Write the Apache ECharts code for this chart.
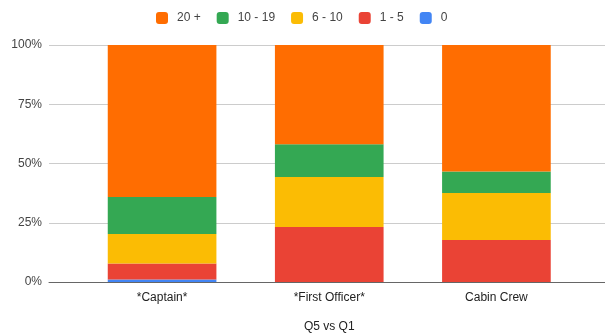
<!DOCTYPE html>
<html>
<head>
<meta charset="utf-8">
<script src="https://cdn.jsdelivr.net/npm/echarts@6/dist/echarts.min.js"></script>
<style>
  html, body { margin: 0; padding: 0; background: #fff; }
  #chart { width: 605px; height: 333px; }
</style>
</head>
<body>
<div id="chart"></div>
<script>
// Crew role categories
const categories = ['*Captain*', '*First Officer*', 'Cabin Crew'];

// Share of respondents (%) per experience band, per role
const band0     = [1.1, 0, 0];
const band1to5  = [6.7, 23.2, 17.7];
const band6to10 = [12.5, 21.1, 19.9];
const band10to19 = [15.6, 13.8, 9.0];
const band20plus = [64.1, 41.9, 53.4];

const yTicks = [0, 25, 50, 75, 100];

const font = 'Liberation Sans, Arial, sans-serif';
const textColor = '#444';

const chart = echarts.init(document.getElementById('chart'), null, { renderer: 'canvas' });

function bar(name, data, color) {
  return {
    name: name,
    type: 'bar',
    stack: 'total',
    xAxisIndex: 1,
    yAxisIndex: 1,
    barWidth: '65%',
    itemStyle: { color: color },
    emphasis: { disabled: true },
    data: data
  };
}

chart.setOption({
  animation: false,
  textStyle: { fontFamily: font },
  legend: {
    top: 12,
    left: 156,
    padding: 0,
    itemWidth: 12,
    itemHeight: 12,
    itemGap: 16,
    icon: 'roundRect',
    textStyle: { color: textColor, fontSize: 12, fontFamily: font, padding: [1, 0, 0, 4] },
    data: ['20 +', '10 - 19', '6 - 10', '1 - 5', '0']
  },
  grid: [
    { left: 49, right: 0, top: 45, bottom: 51, outerBoundsMode: 'none', containLabel: false },
    { left: 78.5, right: 25, top: 45, bottom: 51, outerBoundsMode: 'none', containLabel: false }
  ],
  xAxis: [
    {
      type: 'category',
      gridIndex: 0,
      data: [''],
      axisLine: { show: true, lineStyle: { color: '#666', width: 1 } },
      axisTick: { show: false },
      axisLabel: { show: false }
    },
    {
      type: 'category',
      gridIndex: 1,
      data: categories,
      axisLine: { show: false },
      axisTick: { show: false },
      axisLabel: { color: '#222', fontSize: 12, margin: 10, fontFamily: font },
      name: 'Q5 vs Q1',
      nameLocation: 'middle',
      nameGap: 39,
      nameTextStyle: { color: '#222', fontSize: 12, fontFamily: font }
    }
  ],
  yAxis: [
    {
      type: 'value',
      gridIndex: 0,
      min: yTicks[0],
      max: yTicks[yTicks.length - 1],
      interval: 25,
      axisLine: { show: false },
      axisTick: { show: false },
      axisLabel: { color: textColor, fontSize: 12, margin: 7, formatter: '{value}%', fontFamily: font },
      splitLine: { lineStyle: { color: '#ccc', width: 1 } }
    },
    {
      type: 'value',
      gridIndex: 1,
      min: 0,
      max: 100,
      interval: 25,
      show: false,
      splitLine: { show: false }
    }
  ],
  series: [
    bar('0', band0, '#4285f4'),
    bar('1 - 5', band1to5, '#ea4335'),
    bar('6 - 10', band6to10, '#fbbc04'),
    bar('10 - 19', band10to19, '#34a853'),
    bar('20 +', band20plus, '#ff6d01')
  ]
});
</script>
</body>
</html>
